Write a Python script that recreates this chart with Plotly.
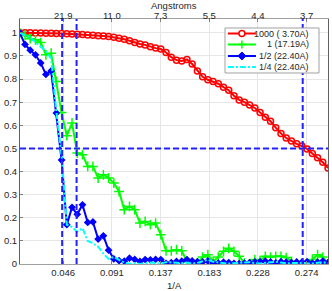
import plotly.graph_objects as go

# spatial frequency (1/A) of each FSC shell
freq = [0.0049, 0.0098, 0.0147, 0.0196, 0.0245, 0.0294, 0.0343, 0.0392, 0.0441, 0.0490,
        0.0539, 0.0588, 0.0637, 0.0686, 0.0735, 0.0784, 0.0833, 0.0882, 0.0931, 0.0980,
        0.1029, 0.1078, 0.1127, 0.1176, 0.1225, 0.1274, 0.1323, 0.1372, 0.1421, 0.1470,
        0.1519, 0.1568, 0.1617, 0.1666, 0.1715, 0.1764, 0.1813, 0.1862, 0.1911, 0.1960,
        0.2009, 0.2058, 0.2107, 0.2156, 0.2205, 0.2254, 0.2303, 0.2352, 0.2401, 0.2450,
        0.2499, 0.2548, 0.2597, 0.2646, 0.2695, 0.2744, 0.2793, 0.2842, 0.2891, 0.2940]

fsc_1000 = [1.0, 1.0, 1.0, 0.999, 0.999, 0.998, 0.998, 0.997, 0.997, 0.996,
            0.995, 0.994, 0.993, 0.991, 0.990, 0.988, 0.986, 0.984, 0.981, 0.977,
            0.972, 0.966, 0.958, 0.952, 0.948, 0.940, 0.934, 0.930, 0.915, 0.895,
            0.882, 0.878, 0.885, 0.865, 0.835, 0.810, 0.797, 0.790, 0.780, 0.765,
            0.752, 0.728, 0.710, 0.700, 0.688, 0.675, 0.655, 0.635, 0.618, 0.590,
            0.565, 0.545, 0.532, 0.520, 0.510, 0.498, 0.478, 0.460, 0.440, 0.415]

fsc_1 = [1.0, 0.99, 0.975, 0.97, 0.958, 0.905, 0.912, 0.79, 0.655, 0.555,
         0.61, 0.48, 0.473, 0.422, 0.422, 0.372, 0.386, 0.372, 0.35, 0.314,
         0.235, 0.249, 0.235, 0.177, 0.184, 0.17, 0.177, 0.127, 0.057, 0.057,
         0.062, 0.057, 0.011, 0.0, 0.005, 0.03, 0.04, 0.011, 0.03, 0.055,
         0.068, 0.055, 0.033, 0.004, 0.0, 0.019, 0.015, 0.033, 0.03, 0.033,
         0.033, 0.028, 0.011, 0.002, 0.0, 0.0, 0.02, 0.04, 0.03, 0.0]

fsc_half = [1.0, 0.95, 0.925, 0.905, 0.87, 0.82, 0.835, 0.653, 0.45, 0.17,
            0.245, 0.215, 0.256, 0.18, 0.182, 0.108, 0.122, 0.06, 0.022, 0.014,
            0.012, 0.025, 0.02, 0.011, 0.019, 0.018, 0.02, 0.019, 0.003, 0.006,
            0.011, 0.012, 0.019, 0.013, 0.01, 0.009, 0.013, 0.004, 0.004, 0.008,
            0.006, 0.003, 0.002, 0.004, 0.006, 0.009, 0.01, 0.012, 0.009, 0.005,
            0.01, 0.008, 0.007, 0.009, 0.008, 0.01, 0.004, 0.008, 0.012, 0.006]

fsc_quarter = [1.0, 0.99, 0.98, 0.96, 0.94, 0.92, 0.89, 0.66, 0.47, 0.17,
               0.16, 0.14, 0.155, 0.10, 0.09, 0.075, 0.045, 0.022, 0.03, 0.018,
               0.006, 0.001, 0.004, 0.0, 0.003, 0.006, 0.004, 0.002, 0.008, 0.006,
               0.003, 0.004, 0.006, 0.002, 0.005, 0.012, 0.018, 0.01, 0.006, 0.004,
               0.002, 0.003, 0.005, 0.006, 0.008, 0.004, 0.002, 0.005, 0.008, 0.01,
               0.006, 0.003, 0.004, 0.006, 0.005, 0.003, 0.002, 0.005, 0.008, 0.004]

series_names = ["1000 ( 3.70A)", "1 (17.19A)", "1/2 (22.40A)", "1/4 (22.40A)"]
resolutions = [3.70, 17.19, 22.40, 22.40]   # A, where FSC crosses threshold
threshold = 0.5

x_tick_vals = [0.04566, 0.09132, 0.13698, 0.18264, 0.2283, 0.27396]
x_tick_text = ["0.046", "0.091", "0.137", "0.183", "0.228", "0.274"]
top_tick_text = ["21.9", "11.0", "7.3", "5.5", "4.4", "3.7"]
y_tick_vals = [0, 0.1, 0.2, 0.3, 0.4, 0.5, 0.6, 0.7, 0.8, 0.9, 1.0]
y_tick_text = ["0", "0.1", "0.2", "0.3", "0.4", "0.5", "0.6", "0.7", "0.8", "0.9", "1"]

FONT = "Liberation Sans, Arial, sans-serif"
TXT = "#262626"
RED, GREEN, BLUE, CYAN = "#FF0000", "#00FF00", "#0000FF", "#00FFFF"
CYAN_DASH = "6px,2px,2px,2px"

fig = go.Figure()

fig.add_trace(go.Scatter(
    x=freq, y=fsc_1000, name=series_names[0], mode="lines+markers",
    line=dict(color=RED, width=2),
    marker=dict(symbol="circle-open", size=6, color=RED, line=dict(width=1.5)),
))
fig.add_trace(go.Scatter(
    x=freq, y=fsc_1, name=series_names[1], mode="lines+markers",
    line=dict(color=GREEN, width=2),
    marker=dict(symbol="cross-thin-open", size=7, color=GREEN, line=dict(width=1.5, color=GREEN)),
))
fig.add_trace(go.Scatter(
    x=freq, y=fsc_half, name=series_names[2], mode="lines+markers",
    line=dict(color=BLUE, width=2),
    marker=dict(symbol="diamond", size=6, color=BLUE),
))
fig.add_trace(go.Scatter(
    x=freq, y=fsc_quarter, name=series_names[3], mode="lines",
    line=dict(color=CYAN, width=2, dash=CYAN_DASH),
))
# invisible trace to carry the top (Angstrom) axis
fig.add_trace(go.Scatter(
    x=freq, y=fsc_1000, xaxis="x2", mode="lines", showlegend=False,
    hoverinfo="skip", line=dict(width=0), opacity=0,
))

# resolution markers: vertical dashed lines at 1/res, horizontal one at threshold
dash_style = dict(color="#2222FF", width=2, dash="6px,3px")
for r in sorted(set(resolutions)):
    fig.add_shape(type="line", xref="x", yref="paper", x0=1.0 / r, x1=1.0 / r,
                  y0=0, y1=1, line=dash_style, layer="above")
fig.add_shape(type="line", xref="paper", yref="y", x0=0, x1=1,
              y0=threshold, y1=threshold, line=dash_style, layer="above")

# ---- compact MATLAB-style legend box (paper coordinates) ----
LEG_X0, LEG_X1, LEG_YT, LEG_YB = 0.6656, 0.9708, 0.9633, 0.7796
fig.add_shape(type="rect", xref="paper", yref="paper", x0=LEG_X0, x1=LEG_X1,
              y0=LEG_YB, y1=LEG_YT, fillcolor="white",
              line=dict(color="#A0A0A0", width=1), layer="above")
row_y = [0.9408, 0.8960, 0.8490, 0.8040]
samp_x0, samp_x1, samp_xc, text_x = 0.675, 0.766, 0.7205, 0.946
row_colors = [RED, GREEN, BLUE, CYAN]
for i, (name, col) in enumerate(zip(series_names, row_colors)):
    yy = row_y[i]
    fig.add_shape(type="line", xref="paper", yref="paper", x0=samp_x0, x1=samp_x1,
                  y0=yy, y1=yy, layer="above",
                  line=dict(color=col, width=2, dash=CYAN_DASH if i == 3 else "solid"))
    pix = dict(xref="paper", yref="paper", xsizemode="pixel", ysizemode="pixel",
               xanchor=samp_xc, yanchor=yy, layer="above")
    if i == 0:
        fig.add_shape(type="circle", x0=-3, x1=3, y0=-3, y1=3, fillcolor="white",
                      line=dict(color=col, width=1.5), **pix)
    elif i == 1:
        fig.add_shape(type="line", x0=-4, x1=4, y0=0, y1=0, line=dict(color=col, width=1.5), **pix)
        fig.add_shape(type="line", x0=0, x1=0, y0=-4, y1=4, line=dict(color=col, width=1.5), **pix)
    elif i == 2:
        fig.add_shape(type="path", path="M 0,4 L 4,0 L 0,-4 L -4,0 Z", fillcolor=col,
                      line=dict(color=col, width=1), **pix)
    fig.add_annotation(xref="paper", yref="paper", x=text_x, y=yy, text=name,
                       showarrow=False, xanchor="right", yanchor="middle",
                       font=dict(family=FONT, size=9, color=TXT))

# axis titles
fig.add_annotation(xref="paper", yref="paper", x=0.5, y=-0.087, text="1/A",
                   showarrow=False, xanchor="center", yanchor="middle",
                   font=dict(family=FONT, size=9.5, color=TXT))
fig.add_annotation(xref="paper", yref="paper", x=0.5, y=1.057, text="Angstroms",
                   showarrow=False, xanchor="center", yanchor="middle",
                   font=dict(family=FONT, size=9.5, color=TXT))

xr = [0.0051, 0.294]
axis_common = dict(showgrid=True, gridcolor="#E6E6E6", gridwidth=1, zeroline=False,
                   ticks="inside", ticklen=3, tickcolor="#808080", automargin=False,
                   tickfont=dict(family=FONT, size=9.5, color=TXT))

fig.update_layout(
    width=332, height=291,
    margin=dict(l=20, r=4, t=19, b=27, autoexpand=False),
    paper_bgcolor="white", plot_bgcolor="white",
    font=dict(family=FONT, size=9.5, color=TXT),
    xaxis=dict(range=xr, tickvals=x_tick_vals, ticktext=x_tick_text,
               showline=True, linecolor="#A0A0A0", linewidth=1, mirror=True,
               **axis_common),
    xaxis2=dict(range=xr, overlaying="x", side="top", tickvals=x_tick_vals,
                ticktext=top_tick_text, showline=False, ticklabelstandoff=-3,
                **{**axis_common, "showgrid": False}),
    yaxis=dict(range=[0, 1.06], tickvals=y_tick_vals, ticktext=y_tick_text,
               showline=True, linecolor="#606060", linewidth=1, mirror=True,
               **axis_common),
    showlegend=False,
)

fig.write_html("out.html",
               config={"displayModeBar": False, "staticPlot": True},
               post_script="document.body.style.margin='0px';document.body.style.padding='0px';")
